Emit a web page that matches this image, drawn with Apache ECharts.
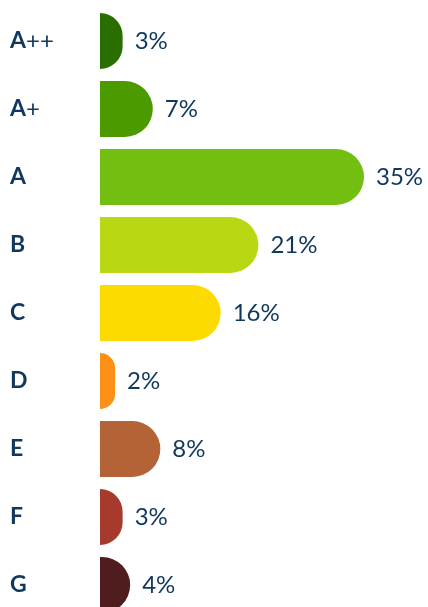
<!DOCTYPE html>
<html lang="en">
<head>
    <meta charset="UTF-8">
    <title>Energy classes</title>
    <style>
        html, body { margin: 0; padding: 0; background: #fff; }
    </style>
</head>
<body>
<div id="main" style="width: 428px;height:607px;"></div>
<script src="https://cdn.jsdelivr.net/npm/echarts@6/dist/echarts.min.js"></script>
<script>
    var classes = ['A++', 'A+', 'A', 'B', 'C', 'D', 'E', 'F', 'G'];
    var shares = [3, 7, 35, 21, 16, 2, 8, 3, 4];
    var classColors = ['#2b6e00', '#4b9a00', '#72bf12', '#b9d813', '#fedb00', '#fd9118', '#b36335', '#a53a2d', '#4f1d1d'];

    var navy = '#10385e';
    var myChart = echarts.init(document.getElementById('main'));

    var option = {
        backgroundColor: '#fff',
        animation: false,
        grid: {
            left: 100,
            top: 7,
            width: 264,
            height: 612,
            outerBoundsMode: 'none'
        },
        xAxis: {
            type: 'value',
            min: 0,
            max: 35,
            show: false
        },
        yAxis: {
            type: 'category',
            data: classes,
            inverse: true,
            axisLine: { show: false },
            axisTick: { show: false },
            axisLabel: {
                align: 'left',
                margin: 90,
                formatter: function (v) {
                    var plus = v.slice(1);
                    return '{b|' + v.charAt(0) + '}' + (plus ? '{p|' + plus + '}' : '');
                },
                rich: {
                    b: { fontFamily: 'Lato', fontWeight: 'bold', fontSize: 23, color: navy },
                    p: { fontFamily: 'Lato', fontWeight: 'normal', fontSize: 24, color: navy }
                }
            }
        },
        series: [
            {
                type: 'bar',
                barWidth: 56,
                data: shares.map(function (v, i) {
                    return { value: v, itemStyle: { color: classColors[i] } };
                }),
                itemStyle: {
                    borderRadius: [0, 28, 28, 0]
                },
                label: {
                    show: true,
                    position: 'right',
                    distance: 12,
                    formatter: '{c}%',
                    fontFamily: 'Lato',
                    fontSize: 24,
                    color: navy
                }
            }
        ]
    };

    myChart.setOption(option);
</script>
</body>
</html>
